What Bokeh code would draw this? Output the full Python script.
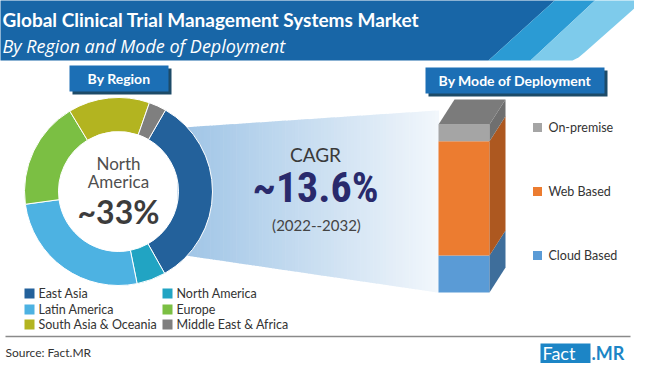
import numpy as np
from bokeh.plotting import figure
from bokeh.models import Range1d
from bokeh.core.properties import value
from bokeh.embed import file_html
from bokeh.resources import INLINE

# ---------------- data ----------------
title_text = "Global Clinical Trial Management Systems Market"
subtitle_text = "By Region and Mode of Deployment"

regions = ["East Asia", "North America", "Latin America", "Europe",
           "South Asia & Oceania", "Middle East & Africa"]
region_share = [33.5, 5, 26, 18.5, 14, 3]
region_colors = ["#23619b", "#21a4c3", "#4db2e2", "#7bbf43", "#b3b420", "#7f7f7f"]

modes = ["Cloud Based", "Web Based", "On-premise"]
mode_share = [22, 68, 10]
mode_colors = ["#5a9bd6", "#ec7c30", "#a5a5a5"]
mode_side = ["#3e6e9b", "#ad5820", "#6f6f6f"]

center_label = ["North", "America"]
center_value = "~33%"
cagr_label = "CAGR"
cagr_value = "~13.6%"
cagr_period = "(2022--2032)"
source_text = "Source: Fact.MR"

H = 379


def Y(y):
    return H - y


p = figure(width=634, height=363, x_range=Range1d(8, 642), y_range=Range1d(H - 371, H - 8),
           output_backend="svg", toolbar_location=None, min_border=0,
           x_axis_location=None, y_axis_location=None)
p.grid.visible = False
p.outline_line_color = None
p.background_fill_color = "white"
p.border_fill_color = "white"

# ---------------- header banner ----------------
p.patch([0, 571, 496, 0], [Y(0), Y(0), Y(68), Y(68)], color="#1866a7", line_color=None)
p.patch([571, 611, 538, 496], [Y(0), Y(0), Y(68), Y(68)], color="#2b9bd4", line_color=None)
p.patch([611, 660, 592, 586, 580, 538], [Y(0), Y(0), Y(60), Y(65), Y(68), Y(68)],
        color="#7ecbeb", line_color=None)

p.text(x=[10], y=[Y(27)], text=[title_text], text_color="white", text_font=value("Lato"),
       text_font_style="bold", text_font_size="19px", text_baseline="alphabetic")
p.text(x=[10], y=[Y(53)], text=[subtitle_text], text_color="white", text_font=value("Open Sans"),
       text_font_style="italic", text_font_size="18px", text_baseline="alphabetic")

# ---------------- funnel (gradient) ----------------
N = 80
xs_edges = np.linspace(185, 446, N + 1)


def top_y(x):
    return 134 + (118 - 134) * (x - 205) / (445 - 205)


def bot_y(x):
    return 264 + (300 - 264) * (x - 200) / (445 - 200)


c0 = np.array([158, 196, 230])
c1 = np.array([242, 247, 252])
fx, fy, fc = [], [], []
for i in range(N):
    a, b = xs_edges[i], xs_edges[i + 1] + 0.6
    fx.append([a, b, b, a])
    fy.append([Y(top_y(a)), Y(top_y(b)), Y(bot_y(b)), Y(bot_y(a))])
    t = i / (N - 1)
    c = (c0 + (c1 - c0) * t).astype(int)
    fc.append("#%02x%02x%02x" % tuple(c))
p.patches(fx, fy, fill_color=fc, line_color=None)

# ---------------- tabs ----------------
for (x0, x1, y0, y1, label) in [(77, 176, 73, 99, "By Region"),
                                (433, 612, 75, 101, "By Mode of Deployment")]:
    p.quad(left=x0 + 3, right=x1 + 3, top=Y(y0 + 3), bottom=Y(y1 + 3), color="#1d4b68", line_color=None)
    p.quad(left=x0, right=x1, top=Y(y0), bottom=Y(y1), color="#1c6fb5", line_color=None)
    p.text(x=[(x0 + x1) / 2], y=[Y((y0 + y1) / 2)], text=[label], text_color="white",
           text_font=value("Lato"), text_font_style="bold", text_font_size="14px",
           text_align="center", text_baseline="middle")

# ---------------- donut ----------------
cx, cy = 126, 199
shares = np.array(region_share, dtype=float)
cum = np.concatenate([[0], np.cumsum(shares)]) / shares.sum() * 360 + 30
start = np.deg2rad(90 - cum[:-1])
end = np.deg2rad(90 - cum[1:])
p.annular_wedge(x=cx, y=Y(cy), inner_radius=60, outer_radius=94, start_angle=start, end_angle=end,
                direction="clock", fill_color=region_colors,
                line_color="white", line_width=1)

p.text(x=[cx, cx], y=[Y(171), Y(189)], text=center_label, text_color="#4f4f4f",
       text_font=value("Lato"), text_font_size="17px", text_align="center", text_baseline="middle")
p.text(x=[cx], y=[Y(219)], text=[center_value], text_color="#3c3c3c",
       text_font=value("Lato"), text_font_style="bold", text_font_size="32px",
       text_align="center", text_baseline="middle")

# ---------------- CAGR ----------------
p.text(x=[323], y=[Y(162)], text=[cagr_label], text_color="#3a3a3a", text_font=value("Lato"),
       text_font_size="19px", text_align="center", text_baseline="middle")
p.text(x=[323], y=[Y(195)], text=[cagr_value], text_color="#292a6c",
       text_font=value("Liberation Sans Narrow, Roboto Condensed, Roboto"), text_font_style="bold",
       text_font_size="42px", text_align="center", text_baseline="middle")
p.text(x=[324], y=[Y(232)], text=[cagr_period], text_color="#444444", text_font=value("Lato"),
       text_font_size="15px", text_align="center", text_baseline="middle")

# ---------------- 3D stacked bar ----------------
bx0, bx1 = 446, 497
ybase, htot = 300, 168
dx, dy = 16, -25
ms = np.array(mode_share, dtype=float)
mcum = np.concatenate([[0], np.cumsum(ms)]) / ms.sum()
ybot = ybase - mcum[:-1] * htot
ytop = ybase - mcum[1:] * htot
p.quad(left=bx0, right=bx1, bottom=Y(ybot), top=Y(ytop), fill_color=mode_colors, line_color=None)
sx, sy = [], []
for a, b in zip(ybot, ytop):
    sx.append([bx1, bx1 + dx, bx1 + dx, bx1])
    sy.append([Y(a), Y(a + dy), Y(b + dy), Y(b)])
p.patches(sx, sy, fill_color=mode_side, line_color=None)
yt = ytop[-1]
p.patch([bx0, bx1, bx1 + dx, bx0 + dx], [Y(yt), Y(yt), Y(yt + dy), Y(yt + dy)],
        color="#7b7b7b", line_color=None)

# right legend
leg_y = [263, 199, 135]
p.rect(x=[545] * 3, y=[Y(v) for v in leg_y], width=9, height=9, fill_color=mode_colors, line_color=None)
p.text(x=[556] * 3, y=[Y(v) for v in leg_y], text=modes, text_color="#333333", text_font=value("Lato"),
       text_font_size="12.5px", text_baseline="middle")

# ---------------- left legend ----------------
col_x = [37, 175]
row_y = [301, 317, 332]
lx = [col_x[i % 2] for i in range(len(regions))]
ly = [Y(row_y[i // 2]) for i in range(len(regions))]
p.rect(x=lx, y=ly, width=10, height=10, fill_color=region_colors, line_color=None)
p.text(x=[v + 9 for v in lx], y=ly, text=regions, text_color="#333333", text_font=value("Lato"),
       text_font_size="12.5px", text_baseline="middle")

# ---------------- footer ----------------
p.segment(x0=[13], y0=[Y(344)], x1=[638], y1=[Y(344)], line_color="#8a8a8a", line_width=1.5)
p.text(x=[13], y=[Y(360)], text=[source_text], text_color="#333333", text_font=value("Lato"),
       text_font_size="12px", text_baseline="middle")
p.quad(left=548, right=598, top=Y(351), bottom=Y(371), color="#1c85c6", line_color=None)
p.text(x=[550], y=[Y(360)], text=["Fact"], text_color="white", text_font=value("Lato"),
       text_font_size="18px", text_baseline="middle")
p.text(x=[599], y=[Y(360)], text=[".MR"], text_color="#1c85c6", text_font=value("Lato"),
       text_font_style="bold", text_font_size="18px", text_baseline="middle")

open("out.html", "w").write(file_html(p, INLINE))
